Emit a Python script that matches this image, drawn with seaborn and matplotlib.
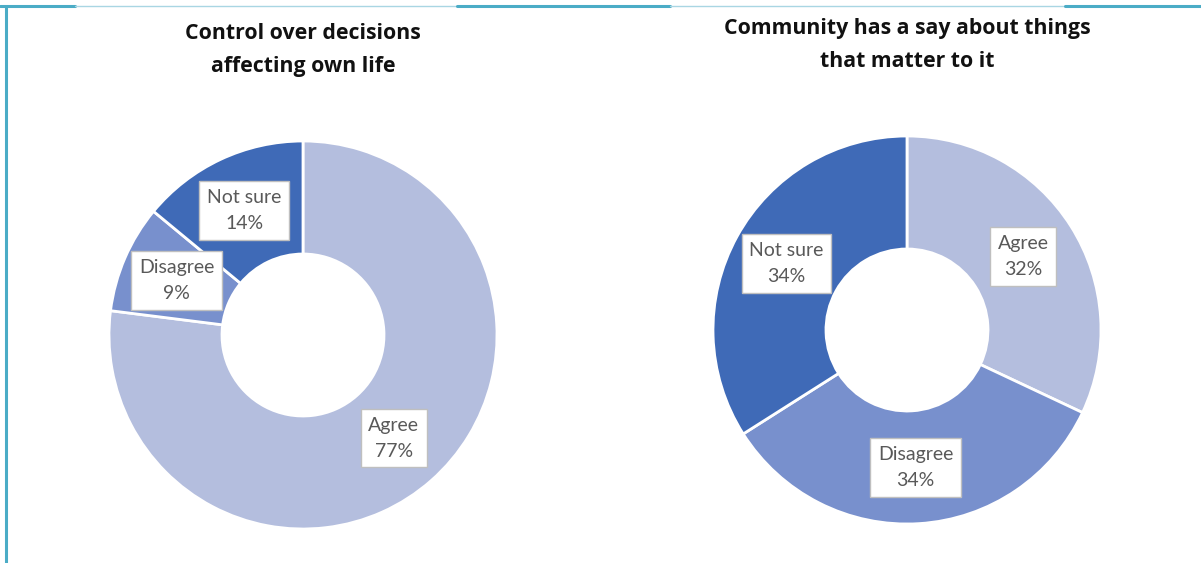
import numpy as np
import matplotlib
matplotlib.use("Agg")
import matplotlib.pyplot as plt
from matplotlib.lines import Line2D
import seaborn as sns

# Survey responses shown as two donut charts
categories = ["Agree", "Disagree", "Not sure"]
control_values = [77, 9, 14]
community_values = [32, 34, 34]
titles = ["Control over decisions\naffecting own life",
          "Community has a say about things\nthat matter to it"]
palette = ["#B4BEDE", "#7890CD", "#3F6AB7"]

sns.set_theme(style="white")
plt.rcParams["font.family"] = ["Lato", "DejaVu Sans"]

W, H = 1201, 563
fig = plt.figure(figsize=(W / 100, H / 100), dpi=100)
fig.patch.set_facecolor("white")

outer_px = 194
hole_px = 81
half_box = 200


def donut(center, values, title, title_y):
    cx, cy = center
    ax = fig.add_axes([(cx - half_box) / W, 1 - (cy + half_box) / H,
                       2 * half_box / W, 2 * half_box / H])
    lim = half_box / outer_px
    ring = 1 - hole_px / outer_px
    wedges, _ = ax.pie(values, radius=1, startangle=90, counterclock=False,
                       colors=palette,
                       wedgeprops=dict(width=ring, edgecolor="white", linewidth=2))
    ax.set_xlim(-lim, lim)
    ax.set_ylim(-lim, lim)
    ax.set_aspect("equal")
    ax.axis("off")
    mid_r = 1 - ring / 2
    for w, cat, v in zip(wedges, categories, values):
        ang = np.deg2rad((w.theta1 + w.theta2) / 2)
        ax.text(mid_r * np.cos(ang), mid_r * np.sin(ang), f"{cat}\n{v}%",
                ha="center", va="center", fontsize=14, color="#595959",
                linespacing=1.65,
                bbox=dict(boxstyle="square,pad=0.4", facecolor="white",
                          edgecolor="#BFBFBF", linewidth=1))
    fig.text(cx / W, 1 - title_y / H, title, ha="center", va="top",
             fontsize=15.3, fontweight="bold", color="#111111", linespacing=1.75,
             family=["Open Sans", "DejaVu Sans"])


donut((303, 335), control_values, titles[0], 23)
donut((907, 330), community_values, titles[1], 18)

# Frame lines along the top and left edges
teal = "#4BACC6"
ty = 1 - 6 / H
for x0, x1, lw, col in [(0, 75, 2.2, teal), (75, 457, 1.0, "#A9D6E3"),
                        (457, 670, 2.2, teal), (670, 1065, 1.0, "#A9D6E3"),
                        (1065, W, 2.2, teal)]:
    fig.add_artist(Line2D([x0 / W, x1 / W], [ty, ty], color=col, linewidth=lw))
fig.add_artist(Line2D([5.5 / W, 5.5 / W], [0, ty], color=teal, linewidth=2.2))

fig.savefig("out.png", dpi=100, facecolor="white")
